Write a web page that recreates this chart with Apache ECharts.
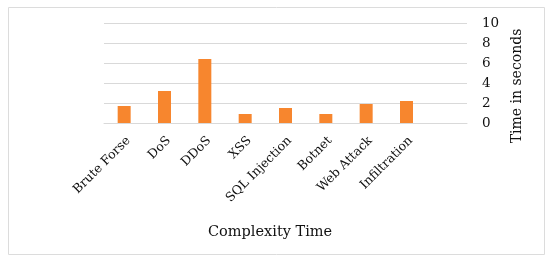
<!DOCTYPE html>
<html>
<head>
<meta charset="utf-8">
<script src="https://cdn.jsdelivr.net/npm/echarts@6/dist/echarts.min.js"></script>
<style>
  html, body { margin: 0; padding: 0; background: #fff; }
  #chart { width: 550px; height: 259px; }
</style>
</head>
<body>
<div id="chart"></div>
<script>
// attack types (last slot is empty, as in the original plot)
var categories = ['Brute Forse', 'DoS', 'DDoS', 'XSS', 'SQL Injection', 'Botnet', 'Web Attack', 'Infiltration', ''];
var timeValues = [1.7, 3.2, 6.4, 0.9, 1.5, 0.9, 1.9, 2.2, null];
var yTicks = [0, 2, 4, 6, 8, 10];

var font = '"DejaVu Serif", "Liberation Serif", serif';
var $e = echarts.init(document.getElementById('chart'));

var option = {
    animation: false,
    backgroundColor: '#fff',
    textStyle: { fontFamily: font },
    title: {
        text: 'Complexity Time',
        left: 203,
        top: 220,
        textStyle: { fontSize: 14.5, fontWeight: 'normal', color: '#111', fontFamily: font }
    },
    graphic: [{
        type: 'rect',
        left: 6, top: 5,
        shape: { width: 536, height: 247 },
        style: { fill: 'none', stroke: '#dcdcdc', lineWidth: 1 },
        silent: true
    }],
    grid: { left: 104, right: 83, top: 23, bottom: 136 },
    xAxis: {
        type: 'category',
        data: categories,
        axisLine: { lineStyle: { color: '#d9d9d9' } },
        axisTick: { show: false },
        axisLabel: {
            rotate: 45,
            interval: 0,
            fontSize: 12.5,
            color: '#111',
            fontFamily: font,
            margin: 20,
            padding: [0, -6, 0, 0]
        }
    },
    yAxis: {
        type: 'value',
        position: 'right',
        min: yTicks[0],
        max: yTicks[yTicks.length - 1],
        interval: 2,
        axisLine: { show: false },
        axisTick: { show: false },
        splitLine: { lineStyle: { color: '#d9d9d9' } },
        axisLabel: { fontSize: 13.5, color: '#111', fontFamily: font, margin: 15 },
        name: 'Time in seconds',
        nameLocation: 'middle',
        nameRotate: 90,
        nameGap: 36,
        nameTextStyle: { fontSize: 14, color: '#111', fontFamily: font, padding: [0, 26, 0, 0] }
    },
    series: [{
        type: 'bar',
        data: timeValues,
        barWidth: 13,
        itemStyle: { color: '#f7862e' }
    }]
};
$e.setOption(option);
window.onresize = function () {
    $e.resize();
};
</script>
</body>
</html>
